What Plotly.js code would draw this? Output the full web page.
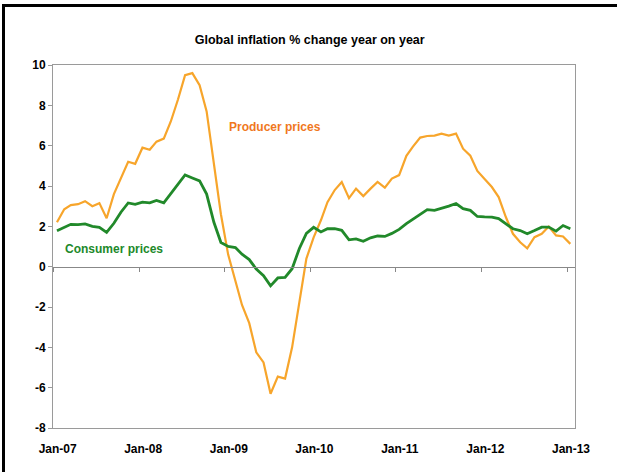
<!DOCTYPE html>
<html>
<head>
<meta charset="utf-8">
<script src="https://cdn.plot.ly/plotly-3.0.1.min.js"></script>
<style>
  html, body { margin: 0; padding: 0; background: #fff; }
  #chart { width: 617px; height: 472px; position: relative; }
  #frame { position: absolute; left: 2px; top: 4px; width: 630px; height: 480px;
           border-top: 3px solid #000; border-left: 3px solid #000; pointer-events: none; }
</style>
</head>
<body>
<div id="chart"></div>
<div id="frame"></div>
<script>
// Monthly data, Jan-07 .. Jan-13
const startYear = 2007;
const producerPrices = [
  2.2, 2.85, 3.05, 3.1, 3.25, 3.0, 3.15, 2.4, 3.6, 4.4, 5.2, 5.1,
  5.9, 5.8, 6.2, 6.35, 7.2, 8.3, 9.5, 9.6, 9.0, 7.7, 5.0, 2.6,
  0.6, -0.7, -1.9, -2.8, -4.25, -4.75, -6.3, -5.45, -5.55, -4.0, -1.8, 0.4,
  1.45, 2.3, 3.2, 3.8, 4.2, 3.4, 3.87, 3.5, 3.87, 4.2, 3.92, 4.37,
  4.54, 5.5, 5.95, 6.4, 6.48, 6.5, 6.6, 6.5, 6.6, 5.85, 5.5, 4.75,
  4.35, 3.95, 3.45, 2.45, 1.63, 1.21, 0.91, 1.46, 1.63, 1.99, 1.55, 1.5,
  1.13
];
const consumerPrices = [
  1.78, 1.95, 2.1, 2.08, 2.12, 2.0, 1.95, 1.7, 2.15, 2.7, 3.16, 3.09,
  3.2, 3.16, 3.28, 3.16, 3.6, 4.1, 4.55, 4.4, 4.25, 3.6, 2.2, 1.2,
  1.0, 0.95, 0.62, 0.35, -0.12, -0.45, -0.95, -0.56, -0.53, -0.1, 0.9, 1.65,
  1.95, 1.72, 1.88, 1.88, 1.8, 1.33, 1.38, 1.26, 1.43, 1.52, 1.5, 1.65,
  1.85, 2.13, 2.35, 2.6, 2.83, 2.79, 2.88, 3.0, 3.13, 2.88, 2.79, 2.49,
  2.47, 2.46, 2.38, 2.13, 1.88, 1.79, 1.63, 1.79, 1.96, 1.96, 1.76, 2.04,
  1.88
];
const tickDates = ['2007-01-01','2008-01-01','2009-01-01','2010-01-01','2011-01-01','2012-01-01','2013-01-01'];
const tickLabels = ['Jan-07','Jan-08','Jan-09','Jan-10','Jan-11','Jan-12','Jan-13'];
const yTicks = [-8, -6, -4, -2, 0, 2, 4, 6, 8, 10];
const yTickLabels = ['-8', '-6', '-4', '-2', '0', '2', '4', '6', '8', '10'];

const months = producerPrices.map((_, i) => {
  const y = startYear + Math.floor(i / 12);
  const m = (i % 12) + 1;
  return y + '-' + (m < 10 ? '0' + m : m) + '-15';
});

const xRange = ['2006-12-29', '2013-02-04'];
const gray = '#9a9a9a';
const font = { family: 'Liberation Sans, Arial, sans-serif', size: 12, color: '#000', weight: 'bold' };

const traces = [
  {
    x: months, y: producerPrices, type: 'scatter', mode: 'lines', name: 'Producer prices',
    line: { color: '#F7A52B', width: 2.2 }, xaxis: 'x', yaxis: 'y', hoverinfo: 'skip'
  },
  {
    x: months, y: consumerPrices, type: 'scatter', mode: 'lines', name: 'Consumer prices',
    line: { color: '#21892A', width: 2.8 }, xaxis: 'x2', yaxis: 'y', hoverinfo: 'skip'
  }
];

const layout = {
  width: 617, height: 472,
  margin: { l: 53, r: 42, t: 65, b: 44 },
  paper_bgcolor: '#fff', plot_bgcolor: '#fff',
  showlegend: false,
  title: {
    text: 'Global inflation % change year on year',
    font: { family: 'Liberation Sans, Arial, sans-serif', size: 12.5, color: '#000', weight: 'bold' },
    x: 0.502, xanchor: 'center', y: 1 - 40 / 472, yanchor: 'middle'
  },
  xaxis: {
    type: 'date', range: xRange,
    tickvals: tickDates, ticktext: tickLabels,
    showgrid: false, zeroline: false,
    showline: true, linecolor: gray, linewidth: 1, mirror: true,
    ticks: '', ticklabelstandoff: 10, ticklabelshift: 4,
    tickfont: font
  },
  xaxis2: {
    type: 'date', range: xRange, overlaying: 'x', anchor: 'free', position: 8 / 18,
    tickvals: tickDates, showticklabels: false,
    showgrid: false, zeroline: false,
    showline: true, linecolor: '#888', linewidth: 1,
    ticks: 'outside', ticklen: 4, tickcolor: '#888', tickwidth: 1
  },
  yaxis: {
    range: [-8, 10], tickvals: yTicks, ticktext: yTickLabels,
    showgrid: false, zeroline: false,
    showline: true, linecolor: gray, linewidth: 1, mirror: true,
    ticks: 'outside', ticklen: 4, tickcolor: gray,
    tickfont: font
  },
  annotations: [
    {
      x: '2009-08-01', y: 6.95, xref: 'x', yref: 'y', text: 'Producer prices', showarrow: false,
      font: { family: 'Liberation Sans, Arial, sans-serif', size: 12, color: '#F0781E', weight: 'bold' }
    },
    {
      x: '2007-09-15', y: 0.9, xref: 'x', yref: 'y', text: 'Consumer prices', showarrow: false,
      font: { family: 'Liberation Sans, Arial, sans-serif', size: 12, color: '#21892A', weight: 'bold' }
    }
  ]
};

Plotly.newPlot('chart', traces, layout, { staticPlot: true, displayModeBar: false });
</script>
</body>
</html>
